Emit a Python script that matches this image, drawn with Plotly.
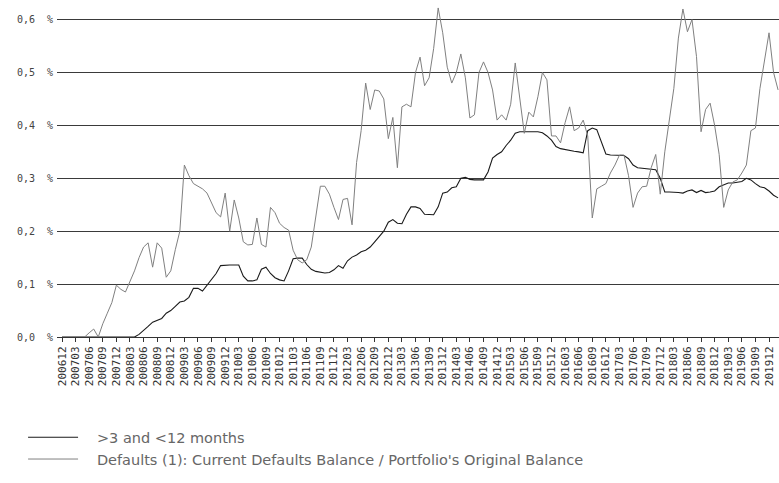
import plotly.graph_objects as go

# Reporting months, one per month from 2006-12 onwards
start_year, start_month = 2006, 12
n_months = 159

# Delinquency bucket ratio (%), monthly
arrears_3_12 = [
    0.0, 0.0, 0.0, 0.0, 0.0, 0.0, 0.008, 0.015, 0.0, 0.025,
    0.045, 0.065, 0.098, 0.09, 0.085, 0.105, 0.125, 0.15, 0.17, 0.178,
    0.132, 0.178, 0.168, 0.113, 0.125, 0.165, 0.20, 0.325, 0.305, 0.29,
    0.285, 0.28, 0.272, 0.255, 0.235, 0.227, 0.272, 0.20, 0.259, 0.225,
    0.18, 0.174, 0.175, 0.225, 0.175, 0.17, 0.245, 0.235, 0.215, 0.207,
    0.202, 0.164, 0.146, 0.14, 0.146, 0.17, 0.23, 0.285, 0.285, 0.27,
    0.245, 0.222, 0.26, 0.262, 0.212, 0.33, 0.39, 0.48, 0.43, 0.467,
    0.465, 0.45, 0.375, 0.415, 0.32, 0.435, 0.44, 0.435, 0.50, 0.529,
    0.475, 0.49, 0.545, 0.622, 0.575, 0.51, 0.48, 0.50, 0.535, 0.49,
    0.414, 0.42, 0.50, 0.52, 0.50, 0.467, 0.41, 0.42, 0.41, 0.44,
    0.518, 0.456, 0.385, 0.425, 0.416, 0.454, 0.50, 0.486, 0.38, 0.38,
    0.367, 0.405, 0.435, 0.39, 0.395, 0.41, 0.38, 0.225, 0.28, 0.285,
    0.29, 0.31, 0.325, 0.344, 0.344, 0.305, 0.245, 0.272, 0.284, 0.285,
    0.32, 0.345, 0.27, 0.35, 0.41, 0.47, 0.565, 0.62, 0.577, 0.60,
    0.53, 0.388, 0.43, 0.442, 0.40, 0.345, 0.245, 0.278, 0.293, 0.297,
    0.31, 0.325, 0.39, 0.395, 0.47, 0.525, 0.575, 0.50, 0.467,
]

# Current defaults balance over original portfolio balance (%), monthly
defaults_ratio = [
    0.0, 0.0, 0.0, 0.0, 0.0, 0.0, 0.0, 0.0, 0.0, 0.0,
    0.0, 0.0, 0.0, 0.0, 0.0, 0.0, 0.0, 0.005, 0.012, 0.02,
    0.028, 0.032, 0.035, 0.045, 0.05, 0.058, 0.066, 0.068, 0.075, 0.092,
    0.092, 0.087, 0.098, 0.108, 0.12, 0.135, 0.136, 0.136, 0.136, 0.136,
    0.115, 0.106, 0.106, 0.108, 0.128, 0.132, 0.12, 0.112, 0.108, 0.106,
    0.125, 0.148, 0.149, 0.149, 0.137, 0.128, 0.124, 0.123, 0.121, 0.122,
    0.127, 0.135, 0.13, 0.144, 0.151, 0.155, 0.161, 0.164, 0.17, 0.18,
    0.19, 0.20, 0.217, 0.222, 0.215, 0.214, 0.232, 0.246, 0.246, 0.243,
    0.232, 0.231, 0.231, 0.246, 0.272, 0.274, 0.282, 0.284, 0.30, 0.302,
    0.298, 0.297, 0.297, 0.297, 0.312, 0.338, 0.345, 0.35, 0.362, 0.372,
    0.385, 0.388, 0.388, 0.388, 0.388, 0.388, 0.386, 0.38, 0.372, 0.36,
    0.356, 0.354, 0.353, 0.351, 0.35, 0.348, 0.39, 0.395, 0.392, 0.37,
    0.346, 0.344, 0.344, 0.344, 0.343, 0.337, 0.325, 0.32, 0.319, 0.317,
    0.316, 0.316, 0.30, 0.274, 0.274, 0.274, 0.273, 0.272, 0.276, 0.278,
    0.273, 0.277, 0.273, 0.274, 0.276, 0.284, 0.287, 0.291, 0.291, 0.292,
    0.294, 0.30, 0.297, 0.29, 0.284, 0.282, 0.276, 0.268, 0.263,
]

y_ticks = [0.0, 0.1, 0.2, 0.3, 0.4, 0.5, 0.6]
y_tick_text = ["0,0  %", "0,1  %", "0,2  %", "0,3  %", "0,4  %", "0,5  %", "0,6  %"]


def month_label(i):
    total = start_year * 12 + (start_month - 1) + i
    return f"{total // 12}{total % 12 + 1:02d}"


months = list(range(n_months))
x_ticks = list(range(0, n_months, 3))
x_tick_text = [month_label(i) for i in x_ticks]

pad = "\u00a0" * 3

fig = go.Figure()
fig.add_trace(go.Scatter(
    x=months[:len(defaults_ratio)], y=defaults_ratio, mode="lines",
    name=pad + "&gt;3 and &lt;12 months",
    line=dict(color="#1a1a1a", width=1.1),
))
fig.add_trace(go.Scatter(
    x=months[:len(arrears_3_12)], y=arrears_3_12, mode="lines",
    name=pad + "Defaults (1): Current Defaults Balance / Portfolio's Original Balance",
    line=dict(color="#808080", width=1),
))

fig.update_layout(
    width=779, height=483,
    margin=dict(l=57, r=0, t=0, b=146, autoexpand=False),
    paper_bgcolor="white", plot_bgcolor="white",
    font=dict(family="DejaVu Sans", color="#444"),
    xaxis=dict(
        range=[-1.103, 158.2],
        tickmode="array", tickvals=x_ticks, ticktext=x_tick_text,
        tickangle=-90, tickfont=dict(family="DejaVu Sans Mono", size=11, color="#333"),
        ticks="outside", ticklen=4, tickcolor="#333", tickwidth=1,
        showline=True, linecolor="#333", linewidth=1,
        showgrid=False, zeroline=False,
    ),
    yaxis=dict(
        range=[0, 0.637],
        tickmode="array", tickvals=y_ticks, ticktext=y_tick_text,
        tickfont=dict(family="DejaVu Sans Mono", size=10, color="#444"),
        ticklabelstandoff=3,
        showgrid=True, gridcolor="#3a3a3a", gridwidth=1,
        zeroline=False, showline=False, ticks="",
    ),
    showlegend=True,
    legend=dict(
        x=-0.047, y=-0.25, xanchor="left", yanchor="top",
        orientation="v", itemwidth=50,
        font=dict(family="DejaVu Sans", size=14.5, color="#666"),
        bgcolor="rgba(0,0,0,0)", borderwidth=0,
        tracegroupgap=0,
    ),
)

fig.write_html("out.html")
